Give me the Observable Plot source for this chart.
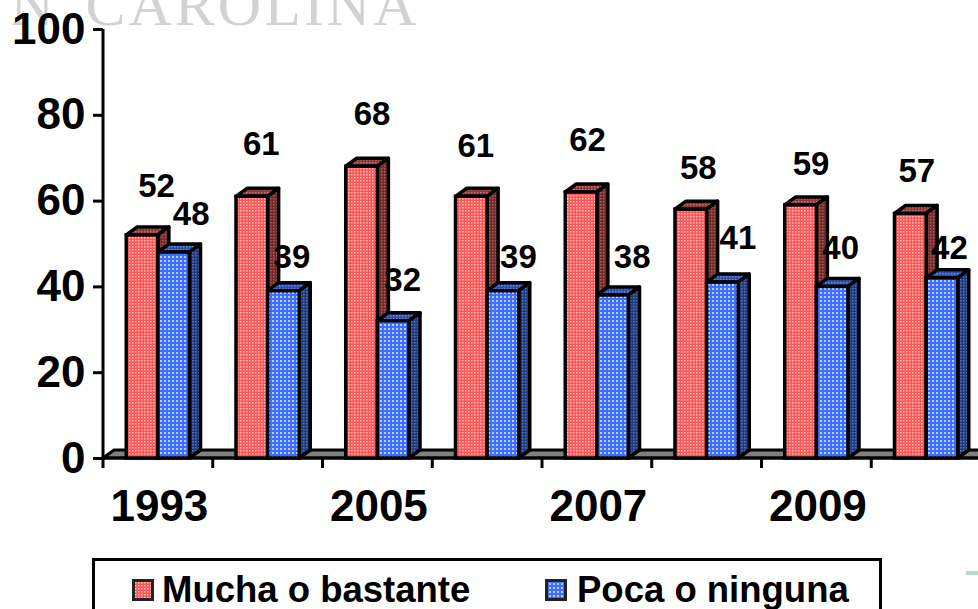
<!DOCTYPE html>
<html><head><meta charset="utf-8">
<script src="https://cdn.jsdelivr.net/npm/d3@7"></script>
<script src="https://cdn.jsdelivr.net/npm/@observablehq/plot@0.6"></script>
<style>
html,body{margin:0;padding:0;background:#fff;overflow:hidden;width:978px;height:609px}
#chart svg{display:block;overflow:hidden}
#legend{position:absolute;left:92px;top:558px;width:784px;height:70px;border:3px solid #000;box-sizing:content-box;font:bold 36.5px "Liberation Sans",Arial,sans-serif;color:#000}
#legend span.t{position:absolute;top:8px;white-space:nowrap}
#legend svg{position:absolute;top:18px}
#mark{position:absolute;left:966px;top:571px;width:12px;height:4px;background:#b9d9c6}
.wm text{letter-spacing:3px}
</style></head><body>
<div id="chart"></div>
<div id="legend"></div>
<div id="mark"></div>
<script>
const years = ["1993","2004","2005","2006","2007","2008","2009","2010"];
const shownYears = ["1993","2005","2007","2009"];
const seriesNames = ["Mucha o bastante","Poca o ninguna"];
const mucha = [52,61,68,61,62,58,59,57];
const poca = [48,39,32,39,38,41,40,42];
const watermark = ["N","CAROLINA"];

// layout, in pixels: label placement from each bar's top centre
const muchaNudge = [[14,-49],[9,-52],[10,-52],[4,-50],[6,-52],[7,-41],[10,-41],[6,-43]];
const pocaNudge = [[17,-38],[8,-34],[9,-41],[15,-34],[19,-38],[15,-44],[8,-38],[7,-30]];
const depth = [11,8];
const step = 109.75, outer = 23.25, half = step/2, barShift = (half-outer)/2;
const FONT = '"Liberation Sans",Arial,sans-serif';
const BAR_STROKE = 3.5;

const rows = s => years.map((year,i)=>({year, series:seriesNames[s], value:(s?poca:mucha)[i]}));

function bar3d(data, front, top, side, insetLeft, insetRight){
  return Plot.barY(data,{
    x:"year", y:"value", insetLeft, insetRight,
    fill:`url(#${front})`, stroke:"#000", strokeWidth:BAR_STROKE,
    render(index, scales, values, dims, ctx, next){
      const g = next(index, scales, values, dims, ctx);
      d3.select(g).selectAll("rect").each(function(){
        const r = d3.select(this);
        const x=+r.attr("x"), y=+r.attr("y"), w=+r.attr("width"), h=+r.attr("height");
        const p = this.parentNode;
        const [dx,dy] = depth;
        const add = (pts,f)=>{
          const e = document.createElementNS("http://www.w3.org/2000/svg","polygon");
          e.setAttribute("points",pts.map(q=>q.join(",")).join(" "));
          e.setAttribute("fill",`url(#${f})`);
          e.setAttribute("stroke","#000");
          e.setAttribute("stroke-width",BAR_STROKE);
          e.setAttribute("stroke-linejoin","round");
          p.insertBefore(e,this);
        };
        add([[x,y],[x+dx,y-dy],[x+w+dx,y-dy],[x+w,y]],top);
        add([[x+w,y],[x+w+dx,y-dy],[x+w+dx,y+h-dy],[x+w,y+h]],side);
      });
      return g;
    }
  });
}

function labels(data, nudge, shift){
  return data.map((d,i)=>Plot.text([d],{
    x:"year", y:"value", text:d=>String(d.value),
    dx:shift+nudge[i][0], dy:nudge[i][1],
    fontSize:33, fontWeight:"bold", fill:"#000", lineAnchor:"middle", textAnchor:"middle"
  }));
}

// floor of the 3-D box, the y axis line, and the category ticks between groups
function floorAndTicks(index, scales, values, dims){
  const {x,y} = scales;
  const g = d3.create("svg:g");
  const y0 = y(0), [dx,dy] = depth, left = dims.marginLeft, right = dims.width + 10;
  g.append("polygon")
   .attr("points",[[left,y0],[left+dx,y0-dy],[right,y0-dy],[right,y0]].map(q=>q.join(",")).join(" "))
   .attr("fill","#808080").attr("stroke","#000").attr("stroke-width",3);
  years.forEach(yr=>{
    const xt = x(yr);
    g.append("line").attr("x1",xt).attr("x2",xt).attr("y1",y0).attr("y2",y0+10).attr("stroke","#000").attr("stroke-width",3);
  });
  g.append("line").attr("x1",left).attr("x2",right).attr("y1",y0).attr("y2",y0).attr("stroke","#000").attr("stroke-width",3);
  g.append("line").attr("x1",left).attr("x2",left).attr("y1",y(100)).attr("y2",y0).attr("stroke","#000").attr("stroke-width",3);
  return g.node();
}

const muchaRows = rows(0), pocaRows = rows(1);

const svg = Plot.plot({
  width:978, height:540,
  marginLeft:103, marginRight:-3, marginTop:29, marginBottom:82,
  style:{background:"#fff", fontFamily:FONT, overflow:"hidden"},
  x:{domain:years, padding:0, round:false, label:null},
  y:{domain:[0,100], label:null},
  marks:[
    Plot.text([watermark[0]],{frameAnchor:"top-left", dx:-93, dy:-5, className:"wm", fontFamily:'"Liberation Serif",serif', fontSize:60, fill:"#d2d2d2", textAnchor:"start", lineAnchor:"bottom"}),
    Plot.text([watermark[1]],{frameAnchor:"top-left", dx:-18, dy:-5, className:"wm", fontFamily:'"Liberation Serif",serif', fontSize:60, fill:"#d2d2d2", textAnchor:"start", lineAnchor:"bottom"}),
    floorAndTicks,
    Plot.axisY({ticks:[0,20,40,60,80,100], tickSize:10, tickPadding:8, strokeWidth:3, fontSize:44, fontWeight:"bold", fill:"#000", stroke:"#000", label:null}),
    Plot.axisX({tickSize:0, tickPadding:31, dx:1, fontSize:44, fontWeight:"bold", fill:"#000", label:null, tickFormat:d=>shownYears.includes(d)?d:""}),
    bar3d(muchaRows,"redFront","redTop","redSide",outer,half),
    bar3d(pocaRows,"blueFront","blueTop","blueSide",half,outer),
    ...labels(muchaRows,muchaNudge,-barShift),
    ...labels(pocaRows,pocaNudge,barShift)
  ]
});

function patternDefs(root){
  const defs = d3.select(root).append("defs");
  const dot = (id,bg,fg,size,dotSize)=>{
    const p = defs.append("pattern").attr("id",id).attr("width",size).attr("height",size).attr("patternUnits","userSpaceOnUse");
    p.append("rect").attr("width",size).attr("height",size).attr("fill",bg);
    p.append("rect").attr("width",dotSize).attr("height",dotSize).attr("fill",fg);
  };
  dot("redFront","#ff5555","#ffc0c0",3,1.5);
  dot("redTop","#8f3535","#c07a7a",3,1.5);
  dot("redSide","#752a2a","#a85e5e",3,1.5);
  dot("blueFront","#3f6fff","#b8ccff",4,2);
  dot("blueTop","#2a4fb0","#6a8ad8",3,1.5);
  dot("blueSide","#1f3a80","#5a74b0",3,1.5);
}
patternDefs(svg);
document.getElementById("chart").appendChild(svg);

const legend = document.getElementById("legend");
[[37,67,"redFront",seriesNames[0]],[450,482,"blueFront",seriesNames[1]]].forEach(([sx,tx,f,t])=>{
  const NS="http://www.w3.org/2000/svg";
  const s=document.createElementNS(NS,"svg");
  s.setAttribute("width",22);s.setAttribute("height",22);s.style.left=sx+"px";
  const r=document.createElementNS(NS,"rect");
  r.setAttribute("x",1.5);r.setAttribute("y",1.5);r.setAttribute("width",19);r.setAttribute("height",19);
  r.setAttribute("fill",`url(#${f})`);r.setAttribute("stroke","#222");r.setAttribute("stroke-width",3);
  s.appendChild(r);legend.appendChild(s);
  const sp=document.createElement("span");sp.className="t";sp.style.left=tx+"px";sp.textContent=t;legend.appendChild(sp);
});
</script>
</body></html>
